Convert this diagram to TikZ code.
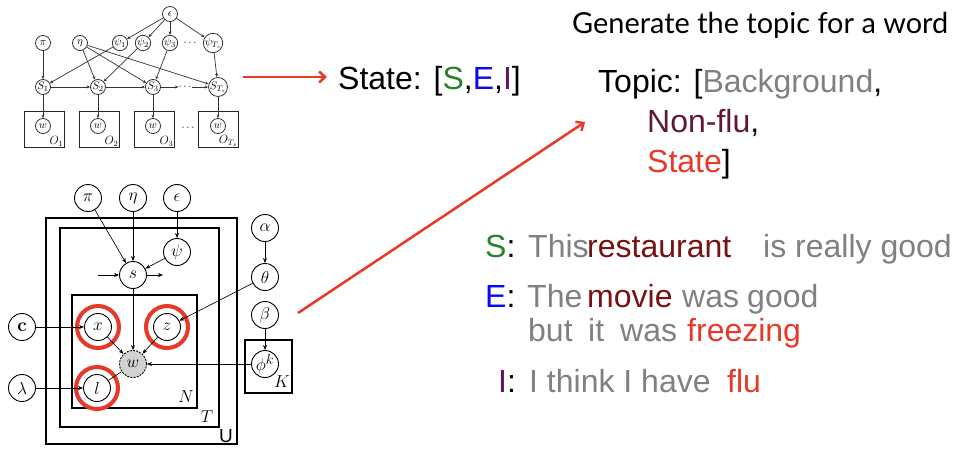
\documentclass[tikz,border=0pt]{standalone}
\usepackage{fontspec}
\usepackage{graphicx}
\setmainfont{Liberation Sans}
\newfontfamily\titlefont{Lato}
\newfontfamily\lmr{Latin Modern Roman}
\usetikzlibrary{arrows.meta}
\definecolor{redc}{RGB}{232,56,40}
\definecolor{grayt}{RGB}{128,128,128}
\definecolor{wordred}{RGB}{120,18,18}
\definecolor{nonflu}{RGB}{95,25,55}
\definecolor{sgreen}{RGB}{40,130,40}
\definecolor{eblue}{RGB}{10,10,240}
\definecolor{ipurple}{RGB}{95,20,105}
\begin{document}
\begin{tikzpicture}[x=1pt,y=-1pt,
  tnode/.style={circle,draw=black!80,line width=0.8pt,minimum size=15pt,inner sep=0pt,font=\fontsize{11}{12}\selectfont},
  tarr/.style={-{Stealth[length=3.5pt,width=3pt]},draw=black!80,line width=0.7pt},
  tbox/.style={draw=black!85,line width=1pt,minimum width=40pt,minimum height=36pt,inner sep=0pt},
  bnode/.style={circle,draw,line width=0.9pt,minimum size=27pt,inner sep=0pt,font=\fontsize{19}{21}\selectfont},
  barr/.style={-{Stealth[length=5pt,width=4pt]},line width=0.65pt},
  ring/.style={draw=redc,line width=4pt},
  plate/.style={draw,line width=2.6pt},
  redarr/.style={-{Straight Barb[length=6pt,width=11pt]},draw=redc,line width=2.5pt},
  big/.style={anchor=base west,inner sep=0pt,font=\fontsize{32}{38}\selectfont},
  platelab/.style={anchor=center,inner sep=0pt,font=\fontsize{19}{21}\selectfont}
]
\useasboundingbox (0,0) rectangle (963,455);

% ---------- top small graph ----------
\node[tnode] (eps) at (170,14) {$\epsilon$};
\node[tnode] (pi1) at (43,43) {$\pi$};
\node[tnode] (eta1) at (80,43) {$\eta$};
\node[tnode] (psi1) at (120,43) {$\psi_1$};
\node[tnode] (psi2) at (143,43) {$\psi_2$};
\node[tnode] (psi3) at (170,43) {$\psi_3$};
\node[inner sep=0pt,font=\fontsize{11}{12}\selectfont] (pdots) at (190,43) {$\cdots$};
\node[tnode] (psiT) at (213,43) {$\psi_{T_s}$};
\node[tnode] (S1) at (43,87) {$S_1$};
\node[tnode] (S2) at (98,87) {$S_2$};
\node[tnode] (S3) at (153,87) {$S_3$};
\node[inner sep=0pt,font=\fontsize{11}{12}\selectfont] (sdots) at (185,87) {$\cdots$};
\node[tnode] (ST) at (218,87) {$S_{T_s}$};
\node[tbox] (O1) at (44,129) {};
\node[tbox] (O2) at (99,129) {};
\node[tbox] (O3) at (154,129) {};
\node[tbox] (O4) at (218,129) {};
\node[inner sep=0pt,font=\fontsize{11}{12}\selectfont] (odots) at (188,128) {$\cdots$};
\node[tnode] (w1) at (43,126) {$w$};
\node[tnode] (w2) at (98,126) {$w$};
\node[tnode] (w3) at (153,126) {$w$};
\node[tnode] (w4) at (218,126) {$w$};
\foreach \b/\l in {O1/O_1,O2/O_2,O3/O_3,O4/O_{T_s}}
  \node[anchor=south east,inner sep=1pt,font=\fontsize{12}{13}\selectfont] at (\b.south east) {$\l$};
\foreach \p in {psi1,psi2,psi3,psiT} \draw[tarr] (eps) -- (\p);
\draw[tarr] (pi1) -- (S1);
\draw[tarr] (eta1) -- (S2);
\draw[tarr] (eta1) -- (S3);
\draw[tarr] (eta1) -- (ST);
\draw[tarr] (psi1) -- (S1);
\draw[tarr] (psi2) -- (S2);
\draw[tarr] (psi3) -- (S3);
\draw[tarr] (psiT) -- (ST);
\draw[tarr] (S1) -- (S2);
\draw[tarr] (S2) -- (S3);
\draw[tarr] (S3) -- (sdots);
\draw[tarr] (sdots) -- (ST);
\draw[tarr] (S1) -- (w1);
\draw[tarr] (S2) -- (w2);
\draw[tarr] (S3) -- (w3);
\draw[tarr] (ST) -- (w4);

% ---------- red arrows ----------
\coordinate (a1s) at (243,77);
\coordinate (a1e) at (327,77);
\draw[redarr] (a1s) -- (a1e);
\coordinate (a2s) at (298,313);
\coordinate (a2e) at (585,122);
\draw[redarr] (a2s) -- (a2e);

% ---------- bottom plate model ----------
\draw[plate] (46,218) rectangle (237,444);
\draw[plate] (60,228) rectangle (219,427);
\draw[plate] (72,295) rectangle (197,408);
\draw[draw,line width=2pt] (245,340) rectangle (292,393);
\node[platelab] (labN) at (186,397) {$N$};
\node[platelab] (labT) at (207,417) {$T$};
\node[platelab] (labU) at (226,436) {U};
\node[platelab] (labK) at (282,382) {$K$};

\node[bnode] (pi) at (88,198) {$\pi$};
\node[bnode] (eta) at (133,198) {$\eta$};
\node[bnode] (ep) at (177,198) {$\epsilon$};
\node[bnode] (psi) at (177,252) {$\psi$};
\node[bnode] (s) at (133,275) {$s$};
\node[bnode] (alpha) at (265,228) {$\alpha$};
\node[bnode] (theta) at (265,277) {$\theta$};
\node[bnode] (beta) at (265,315) {$\beta$};
\node[bnode] (phi) at (265,364) {$\phi^k$};
\node[bnode] (c) at (22,327) {\lmr\bfseries c};
\node[bnode] (lam) at (22,388) {$\lambda$};
\node[bnode] (x) at (98,327) {$x$};
\node[bnode] (z) at (167,327) {$z$};
\node[bnode] (l) at (97,388) {$l$};
\node[bnode,fill=gray!35,dash pattern=on 2pt off 1.2pt] (w) at (133,364) {$w$};
\draw[ring] (x) circle (21);
\draw[ring] (z) circle (21);
\draw[ring] (l) circle (21);
\coordinate (sin) at (98,275);
\coordinate (sout) at (163,275);

\draw[barr] (pi) -- (s);
\draw[barr] (eta) -- (s);
\draw[barr] (ep) -- (psi);
\draw[barr] (psi) -- (s);
\draw[barr] (sin) -- (s);
\draw[barr] (s) -- (sout);
\draw[barr] (s) -- (w);
\draw[barr] (alpha) -- (theta);
\draw[barr] (theta) -- (z);
\draw[barr] (beta) -- (phi);
\draw[barr] (phi) -- (w);
\draw[barr] (c) -- (x);
\draw[barr] (lam) -- (l);
\draw[barr] (x) -- (w);
\draw[barr] (z) -- (w);
\draw[line width=0.65pt] (w) -- (l);

% ---------- texts ----------
\node[anchor=base west,inner sep=0pt] (title) at (572,33) {\resizebox{376pt}{!}{\titlefont Generate the topic for a word}};
\node[big] (state) at (338,89) {State: [{\color{sgreen}S},{\color{eblue}E},{\color{ipurple}I}]};
\node[big] (topic) at (598,92) {Topic: [{\color{grayt}Background},};
\node[big,text=nonflu] (nonflu) at (647,132) {Non-flu{\color{black},}};
\node[big] (stateb) at (647,172) {{\color{redc}State}]};

\node[big] (Slab) at (485,257) {{\color{sgreen}S}:};
\node[big,text=grayt] (this) at (528,257) {This};
\node[big,text=wordred] (rest) at (587,257) {restaurant};
\node[big,text=grayt] (good1) at (763,257) {is really good};

\node[big] (Elab) at (485,307) {{\color{eblue}E}:};
\node[big,text=grayt] (the) at (527,307) {The};
\node[big,text=wordred] (movie) at (587,307) {movie};
\node[big,text=grayt] (was1) at (682,307) {was};
\node[big,text=grayt] (good2) at (747,307) {good};
\node[big,text=grayt] (but) at (528,341) {but};
\node[big,text=grayt] (it) at (588,341) {it};
\node[big,text=grayt] (was2) at (620,341) {was};
\node[big,text=redc] (freez) at (687,341) {freezing};

\node[big] (Ilab) at (498,392) {{\color{ipurple}I}:};
\node[big,text=grayt] (think) at (529,392) {I think I have};
\node[big,text=redc] (flu) at (727,392) {flu};
\end{tikzpicture}
\end{document}
